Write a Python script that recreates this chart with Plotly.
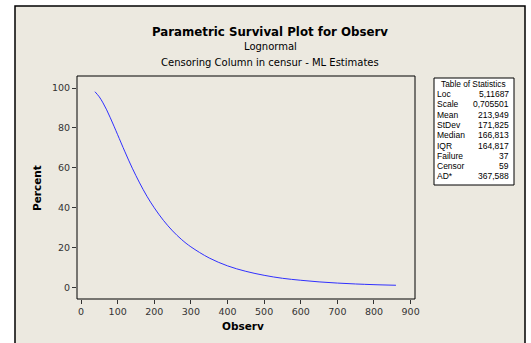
import plotly.graph_objects as go

# Data
observ = [38, 50, 60, 70, 80, 90, 100, 120, 140, 160, 180, 200, 225, 250, 275, 300,
          350, 400, 450, 500, 550, 600, 650, 700, 750, 800, 860]
percent = [98.2, 95.6, 92.6, 89.1, 85.1, 80.9, 76.6, 68.0, 59.8, 52.4, 45.7, 39.9, 33.6,
           28.3, 23.9, 20.3, 14.7, 10.75, 8.0, 6.0, 4.5, 3.5, 2.7, 2.1, 1.65, 1.3, 1.0]
x_ticks = [0, 100, 200, 300, 400, 500, 600, 700, 800, 900]
y_ticks = [0, 20, 40, 60, 80, 100]
stat_names = ["Loc", "Scale", "Mean", "StDev", "Median", "IQR", "Failure", "Censor", "AD*"]
stat_values = ["5,11687", "0,705501", "213,949", "171,825", "166,813", "164,817", "37", "59", "367,588"]

W, H = 531, 343
L, R, T, B = 77, 415, 76, 299
pw, ph = R - L, B - T

def px(x):
    return (x - L) / pw

def py(y):
    return (B - y) / ph

FONT = "DejaVu Sans"
TFONT = "Liberation Sans"
BG = "#ECE9E0"

fig = go.Figure()
fig.add_trace(go.Scatter(x=observ, y=percent, mode="lines",
                         line=dict(color="#3030FF", width=1, shape="spline"),
                         hoverinfo="skip", showlegend=False))

shapes = [
    dict(type="rect", xref="paper", yref="paper", x0=px(15), x1=px(525), y0=py(6), y1=py(346),
         fillcolor=BG, line=dict(color="black", width=1.5), layer="below"),
    dict(type="rect", xref="paper", yref="paper", x0=px(434), x1=px(514), y0=py(78), y1=py(185),
         fillcolor="white", line=dict(color="black", width=1)),
    dict(type="rect", xref="paper", yref="paper", x0=0, x1=1, y0=0, y1=1,
         fillcolor="rgba(0,0,0,0)", line=dict(color="black", width=1)),
]

ann = [
    dict(text="<b>Parametric Survival Plot for Observ</b>", x=px(270), y=py(32), font=dict(size=11.8, color="black", family=FONT)),
    dict(text="Lognormal", x=px(270), y=py(46), font=dict(size=10, color="black", family=FONT)),
    dict(text="Censoring Column in censur - ML Estimates", x=px(270), y=py(62), font=dict(size=10, color="black", family=FONT)),
    dict(text="Table of Statistics", x=px(474), y=py(84), font=dict(size=8.3, color="black", family=TFONT)),
    dict(text="<b>Percent</b>", x=px(37), y=py(188), textangle=-90, font=dict(size=10.5, color="black", family=FONT)),
    dict(text="<b>Observ</b>", x=px(243), y=py(326), font=dict(size=10.5, color="black", family=FONT)),
]
for i, (n, v) in enumerate(zip(stat_names, stat_values)):
    yy = py(94 + i * 10.3)
    ann.append(dict(text=n, x=px(436), y=yy, xanchor="left", font=dict(size=8.5, color="black", family=TFONT)))
    ann.append(dict(text=v, x=px(510), y=yy, xanchor="right", font=dict(size=8.5, color="black", family=TFONT)))
for a in ann:
    a.setdefault("xanchor", "center")
    a.update(xref="paper", yref="paper", yanchor="middle", showarrow=False, borderpad=0)

fig.update_layout(
    width=W, height=H,
    margin=dict(l=L, r=W - R, t=T, b=H - B, pad=0, autoexpand=False),
    paper_bgcolor="white", plot_bgcolor="white",
    shapes=shapes, annotations=ann,
    xaxis=dict(range=[-11, 912], tickvals=x_ticks, ticks="outside", ticklen=4, tickcolor="#333",
               showgrid=False, zeroline=False, showline=False, automargin=False,
               tickfont=dict(size=9.5, color="#333", family=FONT)),
    yaxis=dict(range=[-5.9, 106.1], tickvals=y_ticks, ticks="outside", ticklen=4, tickcolor="#333",
               showgrid=False, zeroline=False, showline=False, automargin=False,
               tickfont=dict(size=9.5, color="#333", family=FONT)),
)

fig.write_html("out.html", config={"displayModeBar": False},
               post_script="document.body.style.margin='0';")
